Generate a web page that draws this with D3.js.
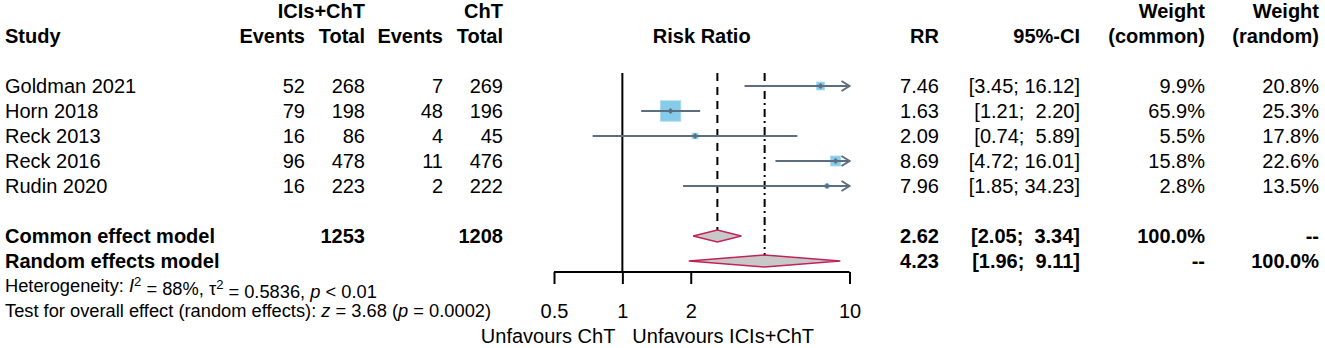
<!DOCTYPE html>
<html>
<head>
<meta charset="utf-8">
<script src="https://cdn.jsdelivr.net/npm/d3@7"></script>
<style>
  body { margin: 0; background: #fff; }
  svg { display: block; }
</style>
</head>
<body>
<div id="chart"></div>
<script>
// study level data
const studies = ["Goldman 2021", "Horn 2018", "Reck 2013", "Reck 2016", "Rudin 2020"];
const eventsE = [52, 79, 16, 96, 16];
const totalE = [268, 198, 86, 478, 223];
const eventsC = [7, 48, 4, 11, 2];
const totalC = [269, 196, 45, 476, 222];
const rr = [7.46, 1.63, 2.09, 8.69, 7.96];
const lower = [3.45, 1.21, 0.74, 4.72, 1.85];
const upper = [16.12, 2.20, 5.89, 16.01, 34.23];
const wCommon = [9.9, 65.9, 5.5, 15.8, 2.8];
const wRandom = [20.8, 25.3, 17.8, 22.6, 13.5];

// pooled results
const models = ["Common effect model", "Random effects model"];
const modelRR = [2.62, 4.23];
const modelLower = [2.05, 1.96];
const modelUpper = [3.34, 9.11];
const modelWCommon = ["100.0%", "--"];
const modelWRandom = ["--", "100.0%"];
const modelTotals = [1253, 1208];

const ticks = [0.5, 1, 2, 10];

let width = 1325,
  height = 348;

const fmt2 = d3.format(".2f");
const fmtW = d => d3.format(".1f")(d) + "%";
// R style padded CI string
const ci = (lo, hi) => `[${fmt2(lo)}; ${fmt2(hi).padStart(5, " ")}]`.replace(/; (\d)\./, ";  $1.");

const x = d3.scaleLog().domain([0.5, 10]).range([554, 849.5]);
// row index -> vertical position
const y = d3.scaleLinear().domain([0, 1]).range([86, 111]);

const sqColor = "#86cbea", lineColor = "#5c6e80";
const diaFill = "#c8c8c8", diaStroke = "#c0235a";

function chart() {
  const svg = d3.select('#chart').append('svg')
    .attr('width', width)
    .attr('height', height)
    .style('font', '20px "Liberation Sans", Arial, sans-serif');

  const txt = (s, xp, row, anchor, bold) => svg.append('text')
    .attr('x', xp)
    .attr('y', y(row))
    .attr('dy', '0.35em')
    .attr('text-anchor', anchor)
    .attr('xml:space', 'preserve')
    .style('white-space', 'pre')
    .style('font-weight', bold ? 'bold' : null)
    .text(s);

  // headers
  txt("ICIs+ChT", 365, -3, 'end', true);
  txt("ChT", 503, -3, 'end', true);
  txt("Study", 5, -2, 'start', true);
  txt("Events", 305, -2, 'end', true);
  txt("Total", 365, -2, 'end', true);
  txt("Events", 443, -2, 'end', true);
  txt("Total", 503, -2, 'end', true);
  txt("Risk Ratio", (x(0.5) + x(10)) / 2, -2, 'middle', true);
  txt("RR", 939, -2, 'end', true);
  txt("95%-CI", 1080, -2, 'end', true);
  txt("Weight", 1205, -3, 'end', true);
  txt("(common)", 1205, -2, 'end', true);
  txt("Weight", 1319, -3, 'end', true);
  txt("(random)", 1319, -2, 'end', true);

  // study rows
  studies.forEach((s, i) => {
    txt(s, 5, i, 'start');
    txt(String(eventsE[i]), 305, i, 'end');
    txt(String(totalE[i]), 365, i, 'end');
    txt(String(eventsC[i]), 443, i, 'end');
    txt(String(totalC[i]), 503, i, 'end');
    txt(fmt2(rr[i]), 939, i, 'end');
    txt(ci(lower[i], upper[i]), 1080, i, 'end');
    txt(fmtW(wCommon[i]), 1205, i, 'end');
    txt(fmtW(wRandom[i]), 1319, i, 'end');
  });

  // model rows
  models.forEach((m, j) => {
    const r = 6 + j;
    txt(m, 5, r, 'start', true);
    if (j === 0) {
      txt(String(modelTotals[0]), 365, r, 'end', true);
      txt(String(modelTotals[1]), 503, r, 'end', true);
    }
    txt(fmt2(modelRR[j]), 939, r, 'end', true);
    txt(ci(modelLower[j], modelUpper[j]), 1080, r, 'end', true);
    txt(modelWCommon[j], 1205, r, 'end', true);
    txt(modelWRandom[j], 1319, r, 'end', true);
  });

  // heterogeneity / test lines (slightly smaller font)
  const het = svg.append('text').attr('x', 5).attr('y', y(8)).attr('dy', '0.35em')
    .style('font-size', '18.3px');
  het.append('tspan').text("Heterogeneity: ");
  het.append('tspan').style('font-style', 'italic').text("I");
  het.append('tspan').attr('dy', '-0.5em').style('font-size', '13px').text("2");
  het.append('tspan').attr('dy', '0.5em').text(" = 88%, \u03c4");
  het.append('tspan').attr('dy', '-0.5em').style('font-size', '13px').text("2");
  het.append('tspan').attr('dy', '0.5em').text(" = 0.5836, ");
  het.append('tspan').style('font-style', 'italic').text("p");
  het.append('tspan').text(" < 0.01");

  const tst = svg.append('text').attr('x', 5).attr('y', y(9)).attr('dy', '0.35em')
    .style('font-size', '18.3px');
  tst.append('tspan').text("Test for overall effect (random effects): ");
  tst.append('tspan').style('font-style', 'italic').text("z");
  tst.append('tspan').text(" = 3.68 (");
  tst.append('tspan').style('font-style', 'italic').text("p");
  tst.append('tspan').text(" = 0.0002)");

  const top = 73, axisY = 272;

  // reference lines
  svg.append('line')
    .attr('x1', x(1)).attr('x2', x(1))
    .attr('y1', top).attr('y2', axisY)
    .attr('stroke', 'black').attr('stroke-width', 2);
  svg.append('line')
    .attr('x1', x(modelRR[0])).attr('x2', x(modelRR[0]))
    .attr('y1', top).attr('y2', y(6) - 6)
    .attr('stroke', 'black').attr('stroke-width', 2)
    .attr('stroke-dasharray', '8,6');
  svg.append('line')
    .attr('x1', x(modelRR[1])).attr('x2', x(modelRR[1]))
    .attr('y1', top).attr('y2', y(7) - 6)
    .attr('stroke', 'black').attr('stroke-width', 2)
    .attr('stroke-dasharray', '8,4,2,4');

  // axis
  const axis = d3.axisBottom(x)
    .tickValues(ticks)
    .tickFormat(d => String(d))
    .tickSize(12)
    .tickSizeOuter(0);
  const ga = svg.append('g')
    .attr('transform', `translate(0,${axisY})`)
    .call(axis);
  ga.select('.domain').attr('stroke', 'black').attr('stroke-width', 2)
    .attr('d', `M${x(0.5)},0H${x(10)}`);
  ga.selectAll('.tick line').attr('stroke', 'black').attr('stroke-width', 2);
  ga.selectAll('.tick text')
    .attr('y', 0).attr('dy', '0.35em')
    .attr('transform', `translate(0,${y(9) - axisY})`)
    .style('font', '20px "Liberation Sans", Arial, sans-serif')
    .attr('fill', 'black');

  txt("Unfavours ChT", x(1) - 7, 10, 'end');
  txt("Unfavours ICIs+ChT", x(1) + 10, 10, 'start');

  // squares & CIs
  const maxW = d3.max(wCommon);
  const side = d3.scaleSqrt().domain([0, maxW]).range([0, 20.5]);
  const g = svg.append('g');
  studies.forEach((s, i) => {
    const cy = y(i);
    const s2 = side(wCommon[i]);
    g.append('rect')
      .attr('x', x(rr[i]) - s2 / 2).attr('y', cy - s2 / 2)
      .attr('width', s2).attr('height', s2)
      .attr('fill', sqColor).attr('stroke', '#a8dcf2').attr('stroke-width', 0.8);
    const lo = Math.max(lower[i], 0.5), hi = Math.min(upper[i], 10);
    g.append('line')
      .attr('x1', x(lo)).attr('x2', x(hi))
      .attr('y1', cy).attr('y2', cy)
      .attr('stroke', lineColor).attr('stroke-width', 2);
    if (upper[i] > 10) {
      const ax = x(10);
      g.append('path')
        .attr('d', `M${ax - 8},${cy - 5}L${ax},${cy}L${ax - 8},${cy + 5}`)
        .attr('fill', 'none').attr('stroke', lineColor).attr('stroke-width', 2);
    }
    const px = x(rr[i]);
    g.append('path')
      .attr('d', `M${px - 3},${cy}L${px},${cy - 3}L${px + 3},${cy}L${px},${cy + 3}Z`)
      .attr('fill', lineColor);
  });

  // diamonds
  models.forEach((m, j) => {
    const cy = y(6 + j);
    g.append('path')
      .attr('d', `M${x(modelLower[j])},${cy}L${x(modelRR[j])},${cy - 6}L${x(modelUpper[j])},${cy}L${x(modelRR[j])},${cy + 6}Z`)
      .attr('fill', diaFill).attr('stroke', diaStroke).attr('stroke-width', 1.5);
  });

  return svg.node();
}

chart();
</script>
</body>
</html>
